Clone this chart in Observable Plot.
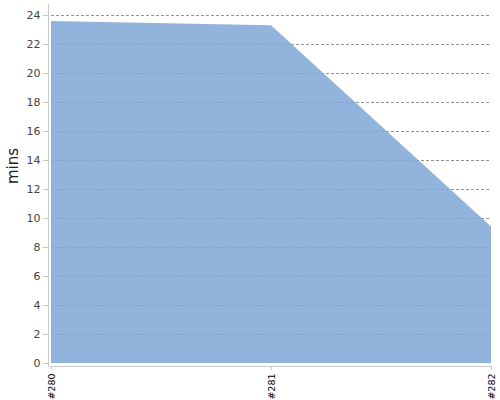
<!DOCTYPE html>
<html>
<head>
<meta charset="utf-8">
<script src="https://cdn.jsdelivr.net/npm/d3@7"></script>
<script src="https://cdn.jsdelivr.net/npm/@observablehq/plot@0.6"></script>
<style>
  body { margin: 0; background: #fff; }
  svg { font-family: "DejaVu Sans", sans-serif; }
</style>
</head>
<body>
<div id="chart"></div>
<script>
const builds = ["#280", "#281", "#282"];
const mins = [23.58, 23.3, 9.42];
const yTicks = [0, 2, 4, 6, 8, 10, 12, 14, 16, 18, 20, 22, 24];
const yLabel = "mins";

const data = builds.map((b, i) => ({build: b, mins: mins[i]}));

const chart = Plot.plot({
  width: 500,
  height: 400,
  marginLeft: 51,
  marginRight: 9,
  marginTop: 4,
  marginBottom: 37,
  style: {fontFamily: "DejaVu Sans, sans-serif", background: "#fff"},
  x: {type: "point", domain: builds, padding: 0},
  y: {domain: [0, 24.76]},
  marks: [
    Plot.gridY(yTicks.filter(t => t > 0), {stroke: "#777", strokeOpacity: 1, strokeDasharray: "3,2", strokeWidth: 0.8}),
    Plot.areaY(data, {x: "build", y: "mins", fill: "#80a7d6", fillOpacity: 0.86}),
    Plot.frame({anchor: "left", dx: -3, insetBottom: -3, stroke: "#c8c8c8", strokeWidth: 1}),
    Plot.frame({anchor: "bottom", dy: 3, insetLeft: -1, stroke: "#c8c8c8", strokeWidth: 1}),
    Plot.axisY(yTicks, {anchor: "left", dx: -3, tickSize: 5, tickPadding: 3, fontSize: 11, color: "#444", stroke: "#c8c8c8", label: null}),
    Plot.axisX(builds, {anchor: "bottom", dy: 3, tickSize: 4, tickPadding: 3, tickRotate: -90, fontSize: 9.5, fill: "#000", stroke: "#c8c8c8", label: null}),
    Plot.text([yLabel], {frameAnchor: "left", dx: -38, rotate: -90, fontSize: 15, fill: "#222", text: d => d})
  ]
});
document.getElementById("chart").appendChild(chart);
</script>
</body>
</html>
